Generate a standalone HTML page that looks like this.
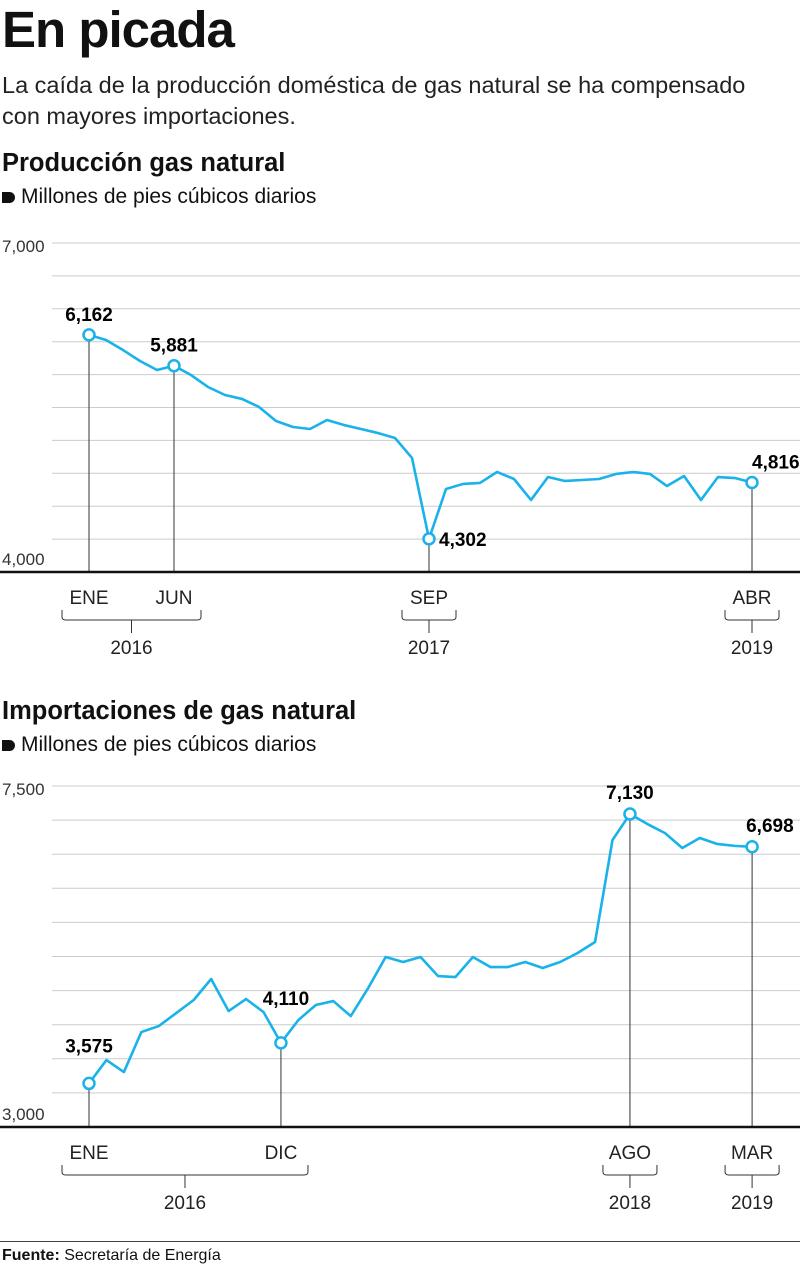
<!DOCTYPE html>
<html><head><meta charset="utf-8"><style>
body{margin:0;width:800px;height:1268px;background:#fff;font-family:"Liberation Sans",sans-serif;color:#111;overflow:hidden;position:relative}
.t{position:absolute;left:2px;white-space:nowrap}
svg{position:absolute;left:0;top:0}
</style></head><body>
<div class="t" style="top:0px;font-size:51px;font-weight:bold;letter-spacing:-1px">En picada</div>
<div class="t" style="top:70px;font-size:23.5px;line-height:31px;color:#222">La caída de la producción doméstica de gas natural se ha compensado<br>con mayores importaciones.</div>
<div class="t" style="top:149px;font-size:25.5px;font-weight:bold">Producción gas natural</div>
<div class="t" style="top:185px;font-size:21px"><span style="display:inline-block;width:13px;height:11px;background:#111;border-radius:0 6px 6px 0;margin-right:6px"></span>Millones de pies cúbicos diarios</div>
<div class="t" style="top:697px;font-size:25.5px;font-weight:bold">Importaciones de gas natural</div>
<div class="t" style="top:733px;font-size:21px"><span style="display:inline-block;width:13px;height:11px;background:#111;border-radius:0 6px 6px 0;margin-right:6px"></span>Millones de pies cúbicos diarios</div>
<div style="position:absolute;left:0;top:1241px;width:800px;height:1px;background:#444"></div>
<div class="t" style="top:1247px;font-size:16px"><b>Fuente:</b> Secretaría de Energía</div>
<svg id="svg" width="800" height="1268"></svg>
<script>
const prodValues=[6162,6116,6024,5924,5842,5881,5796,5687,5614,5578,5505,5377,5322,5304,5386,5340,5304,5267,5222,5040,4302,4757,4803,4812,4912,4848,4657,4866,4830,4839,4848,4894,4912,4894,4784,4875,4657,4866,4857,4816];
const prodLabelIdx=[0,5,20,39];
const prodMonths=["ENE","JUN","SEP","ABR"];
const prodYears=["2016","2017","2019"];
const impValues=[3575,3884,3725,4253,4332,4504,4676,4953,4530,4689,4517,4110,4412,4610,4662,4464,4834,5243,5177,5243,4992,4979,5243,5111,5111,5177,5098,5177,5296,5441,6787,7130,6998,6880,6682,6814,6735,6710,6698];
const impLabelIdx=[0,11,31,38];
const impMonths=["ENE","DIC","AGO","MAR"];
const impYears=["2016","2018","2019"];
const NS="http://www.w3.org/2000/svg";
const svg=document.getElementById('svg');
function mk(t,a,p){const e=document.createElementNS(NS,t);for(const k in a)e.setAttribute(k,a[k]);(p||svg).appendChild(e);return e;}
function fmt(v){return v.toLocaleString('en-US');}
function chart(cfg){
 const {vals,idx,months,years,groups,ymin,ymax,top,bot,x0,dx,grid,name}=cfg;
 const X=i=>x0+i*dx, Y=v=>bot-(v-ymin)/(ymax-ymin)*(bot-top);
 const g=mk('g',{});
 
 
 for(let k=0;k<grid;k++){const y=top+k*(bot-top)/grid;const l=mk('line',{x1:52,x2:800,y1:y,y2:y,stroke:'#ccc','stroke-width':1},g);
  }
 const t1=mk('text',{x:2,y:top+9,'font-size':17,fill:'#333'},g);t1.textContent=fmt(ymax);
 
 const t0=mk('text',{x:2,y:bot-7,'font-size':17,fill:'#333'},g);t0.textContent=fmt(ymin);
 
 idx.forEach(i=>{const l=mk('line',{x1:X(i),x2:X(i),y1:Y(vals[i]),y2:bot,stroke:'#333','stroke-width':1},g);
  });
 const ax=mk('line',{x1:0,x2:800,y1:bot,y2:bot,stroke:'#111','stroke-width':2.5},g);
 
 const p=mk('polyline',{points:vals.map((v,i)=>X(i)+','+Y(v)).join(' '),fill:'none',stroke:'#19b2ea','stroke-width':2.6,'stroke-linejoin':'round'},g);
 
 idx.forEach((i,k)=>{
  const c=mk('circle',{cx:X(i),cy:Y(vals[i]),r:5.5,fill:'#fff',stroke:'#19b2ea','stroke-width':2.5},g);
  
  const lx=cfg.lab[k];
  const t=mk('text',{x:X(i)+lx[0],y:Y(vals[i])+lx[1],'font-size':19,'font-weight':'bold','text-anchor':lx[2]},g);t.textContent=fmt(vals[i]);
  
  const m=mk('text',{x:X(i),y:bot+32,'font-size':19,'text-anchor':'middle',fill:'#222'},g);m.textContent=months[k];
  
 });
 groups.forEach((gr,k)=>{
  const a=X(gr[0])-27,b=X(gr[1])+27,m=(X(gr[0])+X(gr[1]))/2,y=bot+48;
  const br=mk('path',{d:`M${a},${y-10} L${a},${y-3} Q${a},${y} ${a+4},${y} L${b-4},${y} Q${b},${y} ${b},${y-3} L${b},${y-10} M${m},${y} L${m},${y+13}`,fill:'none',stroke:'#333','stroke-width':1},g);
  
  const yt=mk('text',{x:m,y:bot+82,'font-size':19,'text-anchor':'middle',fill:'#222'},g);yt.textContent=years[k];
  
 });
}
chart({vals:prodValues,idx:prodLabelIdx,months:prodMonths,years:prodYears,groups:[[0,5],[20,20],[39,39]],ymin:4000,ymax:7000,top:243,bot:572,x0:89,dx:17,grid:10,name:'production-chart',
 lab:[[0,-14,'middle'],[0,-14,'middle'],[10,7,'start'],[0,-14,'start']]});
chart({vals:impValues,idx:impLabelIdx,months:impMonths,years:impYears,groups:[[0,11],[31,31],[38,38]],ymin:3000,ymax:7500,top:786,bot:1127,x0:89,dx:17.45,grid:10,name:'imports-chart',
 lab:[[0,-31,'middle'],[5,-38,'middle'],[0,-15,'middle'],[-6,-15,'start']]});
</script>
</body></html>
